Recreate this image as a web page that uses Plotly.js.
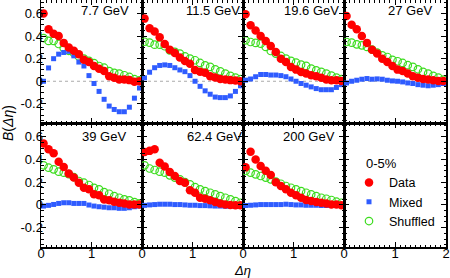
<!DOCTYPE html>
<html><head><meta charset="utf-8">
<script src="https://cdn.plot.ly/plotly-3.0.1.min.js"></script>
<style>html,body{margin:0;padding:0;background:#fff}#chart{width:450px;height:278px}</style>
</head><body><div id="chart"></div>
<script>
// Δη bin centres
const deta = [0.05,0.15,0.25,0.35,0.45,0.55,0.65,0.75,0.85,0.95,1.05,1.15,1.25,1.35,1.45,1.55,1.65,1.75,1.85,1.95];

const energies = ['7.7 GeV','11.5 GeV','19.6 GeV','27 GeV','39 GeV','62.4 GeV','200 GeV'];

// Data (red)
const data77  = [0.60,0.46,0.42,0.40,0.34,0.30,0.27,0.24,0.19,0.17,0.135,0.11,0.09,0.045,0.03,0.015,0.015,0.01,-0.005,0.0];
const data115 = [0.555,0.47,0.44,0.39,0.33,0.28,0.25,0.21,0.18,0.155,0.10,0.085,0.075,0.045,0.033,0.02,0.015,0.01,0.006,0.0];
const data196 = [0.593,0.496,0.45,0.40,0.357,0.313,0.26,0.20,0.17,0.127,0.103,0.083,0.068,0.053,0.044,0.03,0.015,0.009,0.009,0.003];
const data27  = [0.578,0.50,0.46,0.40,0.34,0.28,0.245,0.20,0.17,0.136,0.103,0.091,0.068,0.044,0.03,0.02,0.015,0.009,0.003,0.003];
const data39  = [0.54,0.49,0.454,0.38,0.333,0.275,0.24,0.195,0.15,0.137,0.093,0.084,0.048,0.04,0.028,0.02,0.013,0.004,0.004,0.004];
const data624 = [0.465,0.475,0.49,0.37,0.337,0.29,0.254,0.21,0.195,0.128,0.107,0.063,0.054,0.04,0.025,0.013,0.004,0.0,-0.004,-0.004];
const data200 = [0.33,0.468,0.40,0.342,0.30,0.263,0.20,0.166,0.137,0.107,0.084,0.063,0.043,0.034,0.025,0.019,0.013,0.004,0.004,-0.004];

// Mixed (blue)
const mixed77  = [0.0,0.118,0.20,0.24,0.255,0.265,0.225,0.17,0.135,0.05,-0.02,-0.09,-0.16,-0.22,-0.25,-0.27,-0.27,-0.23,-0.15,-0.06];
const mixed115 = [0.03,0.08,0.12,0.14,0.145,0.14,0.12,0.10,0.085,0.05,0.0,-0.045,-0.085,-0.115,-0.14,-0.145,-0.145,-0.13,-0.09,-0.04];
const mixed196 = [0.01,0.02,0.04,0.06,0.06,0.055,0.055,0.05,0.04,0.02,0.0,-0.02,-0.035,-0.05,-0.065,-0.075,-0.075,-0.075,-0.055,-0.03];
const mixed27  = [-0.015,0.0,0.009,0.018,0.024,0.018,0.021,0.018,0.009,0.003,0.0,-0.006,-0.015,-0.02,-0.03,-0.035,-0.04,-0.035,-0.03,-0.02];
const mixed39  = [-0.01,-0.004,0.004,0.013,0.019,0.019,0.013,0.013,0.013,-0.001,-0.01,-0.016,-0.02,-0.025,-0.025,-0.03,-0.03,-0.025,-0.016,-0.01];
const mixed624 = [-0.004,0.0,0.003,0.006,0.006,0.006,0.003,0.003,0.0,-0.003,-0.003,-0.006,-0.006,-0.008,-0.01,-0.01,-0.012,-0.012,-0.01,-0.01];
const mixed200 = [-0.005,-0.003,0.0,0.003,0.003,0.003,0.003,0.003,0.006,0.003,0.0,0.0,-0.003,-0.003,-0.003,-0.005,-0.005,-0.005,-0.005,-0.005];

// Shuffled (green)
const shuf77  = [0.383,0.357,0.357,0.33,0.295,0.27,0.25,0.22,0.20,0.18,0.16,0.135,0.12,0.09,0.075,0.068,0.053,0.038,0.018,0.009];
const shuf115 = [0.35,0.342,0.324,0.324,0.31,0.274,0.26,0.245,0.22,0.20,0.186,0.162,0.14,0.127,0.106,0.088,0.068,0.047,0.032,0.018];
const shuf196 = [0.363,0.348,0.34,0.333,0.304,0.268,0.245,0.224,0.20,0.18,0.165,0.147,0.136,0.112,0.097,0.083,0.068,0.05,0.032,0.018];
const shuf27  = [0.348,0.342,0.327,0.318,0.304,0.28,0.254,0.23,0.215,0.19,0.177,0.162,0.142,0.127,0.106,0.083,0.068,0.047,0.032,0.015];
const shuf39  = [0.348,0.327,0.313,0.292,0.283,0.27,0.245,0.21,0.195,0.175,0.15,0.137,0.113,0.098,0.078,0.063,0.048,0.04,0.025,0.013];
const shuf624 = [0.348,0.32,0.307,0.292,0.283,0.26,0.24,0.225,0.20,0.18,0.157,0.137,0.122,0.107,0.092,0.078,0.063,0.048,0.034,0.019];
const shuf200 = [0.298,0.283,0.269,0.254,0.24,0.225,0.204,0.186,0.166,0.151,0.137,0.122,0.107,0.092,0.078,0.063,0.054,0.043,0.028,0.019];

const seriesNames = ['Data','Mixed','Shuffled'];
const legendTitle = '0-5%';
const yTickVals = [-0.2,0,0.2,0.4,0.6];
const yTickText = ['-0.2','0','0.2','0.4','0.6'];
const xTickVals = [0,1,2];
const xTickText = ['0','1','2'];

const dataAll  = [data77,data115,data196,data27,data39,data624,data200];
const mixedAll = [mixed77,mixed115,mixed196,mixed27,mixed39,mixed624,mixed200];
const shufAll  = [shuf77,shuf115,shuf196,shuf27,shuf39,shuf624,shuf200];

// ---- layout geometry (pixels of the 450x278 page) ----
const W = 450, H = 278;
const colPx = [[41,142],[142,243],[243,344],[344,446]];
const rowPx = [[0,123],[123,247]];
const labelPos = [[1.26,0.63],[1.41,0.63],[1.35,0.63],[1.29,0.63],[1.25,0.60],[1.44,0.60],[1.30,0.60]];
const FONT = 'Liberation Sans, Arial, Helvetica, sans-serif';
const RED = '#ff0000', BLUE = '#2f5cff', GREEN = '#3cdc1e';

const traces = [];
for (let p = 0; p < 7; p++) {
  const ax = p === 0 ? '' : String(p+1);
  traces.push({x: deta, y: shufAll[p], type:'scatter', mode:'markers', name: seriesNames[2],
    xaxis:'x'+ax, yaxis:'y'+ax, showlegend: p===0, legendrank: 3,
    marker:{symbol:'circle-open', size:7.5, color:GREEN, line:{width:1.2, color:GREEN}}});
  traces.push({x: deta, y: mixedAll[p], type:'scatter', mode:'markers', name: seriesNames[1],
    xaxis:'x'+ax, yaxis:'y'+ax, showlegend: p===0, legendrank: 2,
    marker:{symbol:'square', size:5, color:BLUE}});
  traces.push({x: deta, y: dataAll[p], type:'scatter', mode:'markers', name: seriesNames[0],
    xaxis:'x'+ax, yaxis:'y'+ax, showlegend: p===0, legendrank: 1,
    marker:{symbol:'circle', size:8.5, color:RED}});
}
// empty trace so that the eighth (legend) panel gets its frame and ticks
traces.push({x: [], y: [], type:'scatter', mode:'markers', xaxis:'x8', yaxis:'y8', showlegend:false, hoverinfo:'skip'});

const layout = {
  width: W, height: H, autosize:false,
  margin:{l:0,r:0,t:0,b:0},
  paper_bgcolor:'#fff', plot_bgcolor:'#fff',
  font:{family:FONT, size:13, color:'#000'},
  showlegend:true,
  legend:{x:364/W, y:1-151/H, xanchor:'left', yanchor:'top', bgcolor:'rgba(0,0,0,0)', indentation:-15,
    title:{text:legendTitle, font:{size:13}}, font:{size:12.5}, itemsizing:'trace', traceorder:'normal'},
  annotations:[], shapes:[]
};

for (let i = 1; i <= 8; i++) {
  const col = (i-1)%4, row = Math.floor((i-1)/4);
  const ax = i === 1 ? '' : String(i);
  const xd = [colPx[col][0]/W, colPx[col][1]/W];
  const yd = [1-rowPx[row][1]/H, 1-rowPx[row][0]/H];
  const xt = (i === 8) ? xTickVals : xTickVals.slice(0,2);
  const xtt = (i === 8) ? xTickText : xTickText.slice(0,2);
  layout['xaxis'+ax] = {domain: xd, range:[0,2], anchor:'y'+ax, showline:true, linewidth:1.5, linecolor:'#000',
    mirror:'allticks', ticks:'inside', ticklen:5, tickwidth:1, tickcolor:'#000',
    tickmode:'array', tickvals: xt, ticktext: xtt, showticklabels: row===1, ticklabelstandoff:-6,
    minor:{tickmode:'linear', tick0:0, dtick:0.1, ticks:'inside', ticklen:2.5, tickwidth:1, tickcolor:'#000', showgrid:false},
    showgrid:false, zeroline:false, fixedrange:true, tickfont:{size:13}};
  layout['yaxis'+ax] = {domain: yd, range:[-0.37,0.72], anchor:'x'+ax, showline:true, linewidth:1.5, linecolor:'#000',
    mirror:'allticks', ticks:'inside', ticklen:5, tickwidth:1, tickcolor:'#000',
    tickmode:'array', tickvals: yTickVals, ticktext: yTickText, showticklabels: col===0, ticklabelstandoff:-6,
    minor:{tickmode:'linear', tick0:0, dtick:0.05, ticks:'inside', ticklen:2.5, tickwidth:1, tickcolor:'#000', showgrid:false},
    showgrid:false, zeroline:false, fixedrange:true, tickfont:{size:13}};
  if (i <= 7) {
    layout.annotations.push({xref:'x'+ax, yref:'y'+ax, x: labelPos[i-1][0], y: labelPos[i-1][1],
      text: energies[i-1], showarrow:false, xanchor:'center', yanchor:'middle', font:{size:13}});
  }
  if (row === 0) {
    layout.shapes.push({type:'line', xref:'x'+ax+' domain', yref:'y'+ax, x0:0, x1:1, y0:0, y1:0,
      line:{color:'#aaaaaa', width:1, dash:'dot'}, layer:'below'});
  }
}

layout.annotations.push({xref:'paper', yref:'paper', x:8/W, y:1-123/H, text:'<i>B</i>(<i>Δη</i>)',
  textangle:-90, showarrow:false, xanchor:'center', yanchor:'middle', font:{size:14}});
layout.annotations.push({xref:'paper', yref:'paper', x:242/W, y:1-270/H, text:'<i>Δη</i>',
  showarrow:false, xanchor:'center', yanchor:'middle', font:{size:13}});

Plotly.newPlot('chart', traces, layout, {staticPlot:true, displayModeBar:false});
</script>
</body></html>
